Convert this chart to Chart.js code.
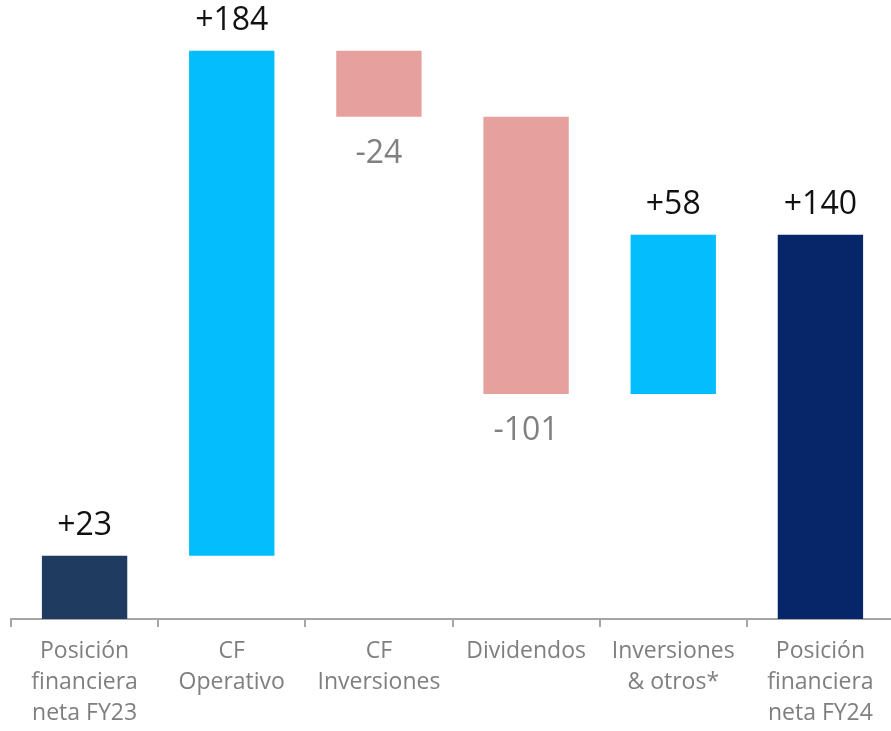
<!DOCTYPE html>
<html>
<head>
<meta charset="utf-8">
<script src="https://cdn.jsdelivr.net/npm/chart.js@4/dist/chart.umd.min.js"></script>
<style>
  html, body { margin: 0; padding: 0; background: #fff; overflow: hidden; }
  #wrap { width: 894px; height: 731px; position: relative; }
</style>
</head>
<body>
<div id="wrap"><canvas id="waterfall"></canvas></div>
<script>
// categories and the movement of each step (last one is the closing total)
const categories = [
    ['Posición', 'financiera', 'neta FY23'],
    ['CF', 'Operativo'],
    ['CF', 'Inversiones'],
    ['Dividendos'],
    ['Inversiones', '& otros*'],
    ['Posición', 'financiera', 'neta FY24']
];
const changes = [23, 184, -24, -101, 58, 140];
const isTotal = [true, false, false, false, false, true];
const valueLabels = ['+23', '+184', '-24', '-101', '+58', '+140'];

const barColors = ['#1f3b60', '#03bdfc', '#e6a19e', '#e6a19e', '#03bdfc', '#062669'];

// build floating bars [start, end]
let running = 0;
const ranges = changes.map((v, i) => {
    if (isTotal[i]) {
        running = v;
        return [0, v];
    }
    const start = running;
    running += v;
    return [start, running];
});

const barLabels = {
    id: 'barLabels',
    afterDatasetsDraw(chart) {
        const ctx = chart.ctx;
        const meta = chart.getDatasetMeta(0);
        ctx.save();
        ctx.font = '32px "Open Sans"';
        ctx.textAlign = 'center';
        ctx.textBaseline = 'alphabetic';
        meta.data.forEach((bar, i) => {
            const props = bar.getProps(['x', 'y', 'base'], true);
            const top = Math.min(props.y, props.base);
            const bottom = Math.max(props.y, props.base);
            if (changes[i] >= 0) {
                ctx.fillStyle = '#111111';
                ctx.fillText(valueLabels[i], props.x, top - 21);
            } else {
                ctx.fillStyle = '#808080';
                ctx.fillText(valueLabels[i], props.x, bottom + 46);
            }
        });
        ctx.restore();
    }
};

const ctx = document.getElementById('waterfall').getContext('2d');
const chart = new Chart(ctx, {
    type: 'bar',
    data: {
        labels: categories,
        datasets: [{
            data: ranges,
            backgroundColor: barColors,
            borderWidth: 0,
            barPercentage: 0.58,
            categoryPercentage: 1.0
        }]
    },
    options: {
        responsive: true,
        maintainAspectRatio: false,
        animation: false,
        layout: { padding: { left: 11, right: 0, top: 0, bottom: 0 } },
        plugins: {
            legend: { display: false },
            tooltip: { enabled: false }
        },
        scales: {
            y: {
                display: false,
                min: 0,
                max: 225.5
            },
            x: {
                afterFit: scale => { scale.height = 112; },
                border: { display: true, color: '#a6a6a6', width: 2 },
                grid: {
                    offset: true,
                    drawOnChartArea: false,
                    drawTicks: true,
                    tickLength: 8,
                    color: '#a6a6a6',
                    lineWidth: 2
                },
                ticks: {
                    color: '#7f7f7f',
                    padding: 9,
                    maxRotation: 0,
                    autoSkip: false,
                    font: { family: '"Open Sans"', size: 23, lineHeight: '31px' }
                }
            }
        }
    },
    plugins: [barLabels]
});
</script>
</body>
</html>
